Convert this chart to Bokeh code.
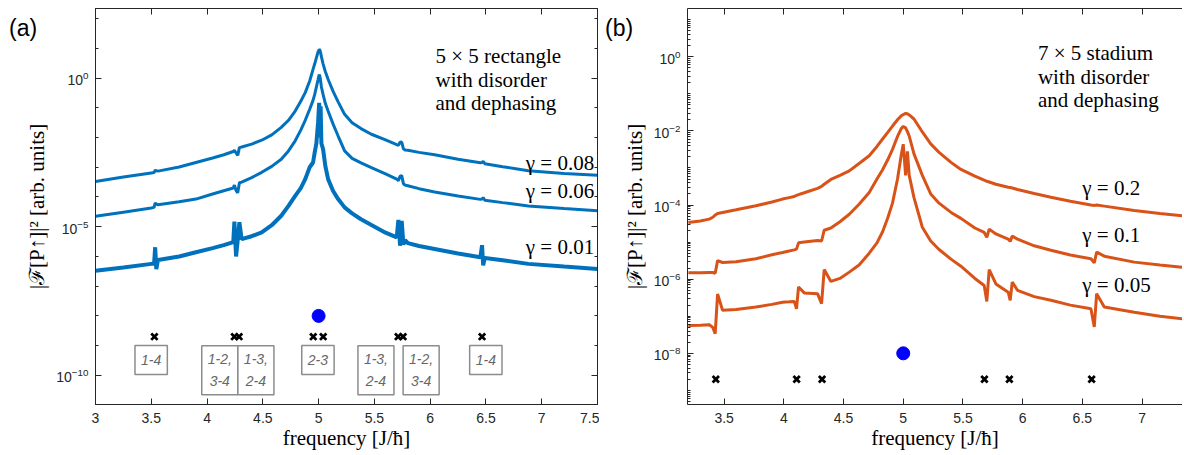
import numpy as np
from bokeh.plotting import figure
from bokeh.models import (FixedTicker, LogAxis, LinearAxis, CustomJSTickFormatter,
                          Label, Range1d, Div, GridBox)
from bokeh.embed import file_html
from bokeh.resources import INLINE
from bokeh.core.properties import value

# ------------------------------------------------------------------ data
# panel (a): 5x5 rectangle -- log10 of |F[P]|^2
freq_a = [3.00, 3.25, 3.50, 3.525, 3.535, 3.545, 3.56, 3.75, 3.90, 4.05,
          4.15, 4.235, 4.245, 4.26, 4.275, 4.29, 4.31, 4.40, 4.49, 4.58,
          4.665, 4.73, 4.79, 4.84, 4.88, 4.92, 4.95, 4.965, 4.98, 4.995,
          5.005, 5.012, 5.018, 5.025, 5.04, 5.06, 5.085, 5.13, 5.175, 5.233,
          5.30, 5.38, 5.473, 5.60, 5.70, 5.715, 5.73, 5.745, 5.76, 5.775,
          5.80, 5.90, 6.04, 6.25, 6.45, 6.465, 6.475, 6.49, 6.65, 6.88,
          7.20, 7.50]
log_a_g008 = [-3.48, -3.33, -3.19, -3.18, -3.10, -3.12, -3.13, -2.99, -2.84, -2.69,
              -2.58, -2.47, -2.43, -2.52, -2.60, -2.34, -2.32, -2.22, -2.09, -1.91,
              -1.66, -1.42, -1.11, -0.78, -0.49, -0.10, 0.29, 0.48, 0.68, 0.88,
              0.96, 0.94, 0.85, 0.72, 0.48, 0.22, -0.04, -0.45, -0.80, -1.22,
              -1.50, -1.70, -1.89, -2.08, -2.24, -2.26, -2.16, -2.15, -2.38, -2.42,
              -2.43, -2.50, -2.58, -2.73, -2.85, -2.84, -2.80, -2.88, -2.98, -3.12,
              -3.21, -3.27]
log_a_g006 = [-4.65, -4.51, -4.37, -4.35, -4.20, -4.24, -4.26, -4.16, -4.07, -3.90,
              -3.79, -3.70, -3.60, -3.78, -3.86, -3.52, -3.50, -3.35, -3.17, -2.97,
              -2.73, -2.45, -2.11, -1.75, -1.42, -1.05, -0.75, -0.55, -0.30, -0.05,
              0.12, 0.05, -0.10, -0.30, -0.55, -0.85, -1.11, -1.55, -1.95, -2.45,
              -2.70, -2.85, -3.01, -3.22, -3.40, -3.45, -3.30, -3.28, -3.55, -3.60,
              -3.62, -3.72, -3.83, -3.97, -4.08, -4.07, -4.02, -4.11, -4.19, -4.30,
              -4.39, -4.46]
log_a_g001 = [-6.48, -6.37, -6.25, -6.24, -5.69, -6.43, -6.12, -6.00, -5.86, -5.72,
              -5.62, -5.52, -4.83, -6.00, -5.45, -4.85, -5.42, -5.32, -5.19, -4.95,
              -4.63, -4.30, -3.96, -3.70, -3.40, -3.00, -2.84, -2.50, -2.20, -1.50,
              -0.83, -2.00, -0.95, -2.20, -2.39, -2.95, -3.40, -3.80, -4.07, -4.35,
              -4.55, -4.75, -4.94, -5.20, -5.36, -4.77, -5.64, -4.80, -5.60, -5.45,
              -5.55, -5.65, -5.75, -5.90, -6.03, -5.62, -6.30, -6.05, -6.13, -6.25,
              -6.34, -6.42]

# panel (b): 7x5 stadium
freq_b = [3.20, 3.30, 3.375, 3.405, 3.425, 3.445, 3.487, 3.60, 3.766, 3.90,
          3.989, 4.045, 4.087, 4.106, 4.123, 4.171, 4.282, 4.316, 4.338, 4.394,
          4.47, 4.548, 4.63, 4.715, 4.78, 4.827, 4.87, 4.91, 4.952, 4.985,
          5.00, 5.02, 5.035, 5.05, 5.09, 5.16, 5.23, 5.30, 5.40, 5.483,
          5.60, 5.678, 5.70, 5.72, 5.776, 5.879, 5.896, 5.913, 5.957, 6.097,
          6.237, 6.40, 6.572, 6.60, 6.62, 6.684, 6.935, 7.15, 7.34]
log_b_g02 = [-4.47, -4.43, -4.38, -4.33, -4.27, -4.23, -4.20, -4.13, -4.02, -3.92,
             -3.84, -3.80, -3.77, -3.74, -3.72, -3.67, -3.55, -3.50, -3.44, -3.31,
             -3.20, -3.08, -2.88, -2.67, -2.42, -2.22, -2.04, -1.87, -1.70, -1.59,
             -1.56, -1.53, -1.54, -1.57, -1.68, -2.03, -2.35, -2.58, -2.85, -3.04,
             -3.22, -3.33, -3.36, -3.38, -3.44, -3.52, -3.53, -3.54, -3.58, -3.69,
             -3.79, -3.90, -4.00, -4.01, -4.00, -4.03, -4.15, -4.23, -4.29]
log_b_g01 = [-5.83, -5.83, -5.82, -5.82, -5.84, -5.50, -5.55, -5.53, -5.45, -5.34,
             -5.28, -5.24, -5.21, -5.19, -5.02, -5.00, -4.96, -4.97, -4.68, -4.62,
             -4.45, -4.25, -3.98, -3.66, -3.30, -3.05, -2.78, -2.50, -2.15, -1.93,
             -1.88, -1.92, -2.02, -2.14, -2.62, -3.20, -3.70, -3.95, -4.20, -4.36,
             -4.62, -4.74, -4.87, -4.65, -4.78, -4.92, -4.98, -4.84, -4.92, -5.10,
             -5.22, -5.35, -5.45, -5.56, -5.27, -5.38, -5.54, -5.62, -5.68]
log_b_g005 = [-7.25, -7.24, -7.23, -7.30, -7.47, -6.40, -6.84, -6.82, -6.75, -6.68,
              -6.62, -6.61, -6.60, -6.80, -6.21, -6.37, -6.39, -6.66, -5.74, -6.06,
              -5.98, -5.81, -5.62, -5.30, -5.02, -4.72, -4.35, -3.95, -3.30, -2.62,
              -2.36, -3.20, -2.55, -3.20, -3.80, -4.60, -4.97, -5.20, -5.46, -5.65,
              -5.98, -6.17, -6.60, -5.74, -6.13, -6.35, -6.57, -6.08, -6.30, -6.47,
              -6.57, -6.70, -6.80, -7.29, -6.39, -6.75, -6.89, -7.00, -7.07]

# transition frequencies (crosses) and the central pair frequency (dot)
transitions_a = [3.528, 4.245, 4.287, 4.952, 5.041, 5.713, 5.757, 6.465]
transitions_b = [3.43, 4.107, 4.32, 5.68, 5.889, 6.578]
transition_amp = 2e-9
center_freq = [5.0]
center_amp = [1e-8]

# labelled boxes in panel (a)
box_labels_a = ["1-4", "1-2,\n3-4", "1-3,\n2-4", "2-3", "1-3,\n2-4", "1-2,\n3-4", "1-4"]
box_freq_a = [3.499, 4.114, 4.438, 4.994, 5.514, 5.919, 6.499]

gamma_labels_a = ["γ = 0.08", "γ = 0.06", "γ = 0.01"]
gamma_labels_b = ["γ = 0.2", "γ = 0.1", "γ = 0.05"]
desc_a = ["5 × 5 rectangle", "with disorder", "and dephasing"]
desc_b = ["7 × 5 stadium", "with disorder", "and dephasing"]

xticks_a = [3, 3.5, 4, 4.5, 5, 5.5, 6, 6.5, 7, 7.5]
xticks_b = [3.5, 4, 4.5, 5, 5.5, 6, 6.5, 7]
yticks_a = [1e-10, 1e-5, 1e0]
yticks_b = [1e-8, 1e-6, 1e-4, 1e-2, 1e0]

# ------------------------------------------------------------------ style
BLUE = "#0072BD"
ORANGE = "#D95319"
AXIS = "#262626"
SERIF = "Liberation Serif"
SANS = "Liberation Sans"
H = 452
YLABEL = "|ℱ[P↑]|² [arb. units]"
XLABEL = "frequency [J/ħ]"

minor_a = [10.0 ** k for k in range(-11, 3)]
minor_b = [m * 10.0 ** k for k in range(-10, 2) for m in range(1, 10)]


def style_axis(ax, ticker, labels=True):
    ax.ticker = ticker
    ax.axis_line_color = AXIS
    ax.axis_line_width = 1
    ax.major_tick_line_color = AXIS
    ax.minor_tick_line_color = AXIS
    ax.major_tick_in = 6
    ax.major_tick_out = 0
    ax.minor_tick_in = 3
    ax.minor_tick_out = 0
    ax.major_label_text_font = SANS
    ax.major_label_text_font_size = "14px"
    ax.major_label_text_color = AXIS
    if not labels:
        ax.formatter = CustomJSTickFormatter(code="return '';")
        ax.major_label_text_font_size = "0px"
        ax.major_label_standoff = 0


def make_fig(width, xr, yr, left, right, xticks, yticks, yminor):
    p = figure(width=width, height=H, x_range=Range1d(*xr), y_range=Range1d(*yr),
               y_axis_type="log", output_backend="svg", toolbar_location=None,
               min_border_left=left, min_border_right=right,
               min_border_top=8, min_border_bottom=47)
    p.grid.visible = False
    p.background_fill_color = "white"
    p.border_fill_color = "white"
    bottom = p.below[0]
    style_axis(bottom, FixedTicker(ticks=xticks, minor_ticks=[]))
    bottom.formatter = CustomJSTickFormatter(code="return String(tick);")
    bottom.major_label_standoff = 8
    bottom.axis_label = XLABEL
    bottom.axis_label_text_font = SERIF
    bottom.axis_label_text_font_size = "21px"
    bottom.axis_label_text_font_style = "normal"
    bottom.axis_label_text_color = "black"
    bottom.axis_label_standoff = 0
    lefta = p.left[0]
    style_axis(lefta, FixedTicker(ticks=yticks, minor_ticks=yminor))
    lefta.axis_label = YLABEL
    lefta.axis_label_text_font = SERIF
    lefta.axis_label_text_font_size = "21px"
    lefta.axis_label_text_font_style = "normal"
    lefta.axis_label_text_color = "black"
    lefta.axis_label_standoff = 4
    lefta.major_label_standoff = 7
    top = LinearAxis()
    style_axis(top, FixedTicker(ticks=xticks, minor_ticks=[]), labels=False)
    p.add_layout(top, "above")
    return p


def text_label(p, x, y, txt, align):
    p.add_layout(Label(x=x, y=y, text=txt, text_font=SERIF, text_font_size="21px",
                       text_align=align, text_baseline="middle", text_color="black"))


# ------------------------------------------------------------------ panel (a)
pa = make_fig(599, (3.0, 7.5), (10 ** -10.98, 10 ** 2.34), 95, 2,
              xticks_a, yticks_a, minor_a)
pa.outline_line_color = AXIS
right_a = LogAxis()
style_axis(right_a, FixedTicker(ticks=yticks_a, minor_ticks=minor_a), labels=False)
pa.add_layout(right_a, "right")

pa.line(freq_a, np.power(10.0, log_a_g008), line_color=BLUE, line_width=3)
pa.line(freq_a, np.power(10.0, log_a_g006), line_color=BLUE, line_width=3)
pa.line(freq_a, np.power(10.0, log_a_g001), line_color=BLUE, line_width=4)

two_line = ["\n" in s for s in box_labels_a]
box_y = [1.5e-10 if t else 3.3e-10 for t in two_line]
box_w = [0.323 if t else 0.29 for t in two_line]
box_h = [49 if t else 29 for t in two_line]
pa.rect(x=box_freq_a, y=box_y, width=box_w, height=box_h, height_units="screen",
        fill_color="white", line_color="#8C8C8C", line_width=1.5)
pa.text(x=box_freq_a, y=box_y, text=box_labels_a, text_font=value(SANS),
        text_font_style="italic", text_font_size="14px", text_color="#666666",
        text_align="center", text_baseline="middle", text_line_height=1.4)

pa.scatter(transitions_a, [transition_amp] * len(transitions_a), marker="x",
           size=9, line_width=2.8, line_color="black")
pa.scatter(center_freq, center_amp, size=13, color="#0000FF")

for txt, ly in zip(desc_a, [0.75, -0.05, -0.85]):
    text_label(pa, 6.048, 10 ** ly, txt, "left")
for txt, ly in zip(gamma_labels_a, [-2.84, -3.79, -5.69]):
    text_label(pa, 7.47, 10 ** ly, txt, "right")

# ------------------------------------------------------------------ panel (b)
pb = make_fig(583, (3.193, 7.339), (10 ** -9.38, 10 ** 1.30), 88, 0,
              xticks_b, yticks_b, minor_b)
pb.outline_line_color = None

pb.line(freq_b, np.power(10.0, log_b_g02), line_color=ORANGE, line_width=3)
pb.line(freq_b, np.power(10.0, log_b_g01), line_color=ORANGE, line_width=3)
pb.line(freq_b, np.power(10.0, log_b_g005), line_color=ORANGE, line_width=3)

pb.scatter(transitions_b, [transition_amp] * len(transitions_b), marker="x",
           size=9, line_width=2.8, line_color="black")
pb.scatter(center_freq, center_amp, size=13, color="#0000FF")

for txt, ly in zip(desc_b, [0.11, -0.54, -1.17]):
    text_label(pb, 6.128, 10 ** ly, txt, "left")
for txt, ly in zip(gamma_labels_b, [-3.55, -4.81, -6.17]):
    text_label(pb, 6.50, 10 ** ly, txt, "left")

# ------------------------------------------------------------------ panel tags
def tag(txt, left):
    return Div(text=f'<span style="font-family:{SANS};font-size:23px;color:black;'
                    f'line-height:23px;white-space:nowrap">{txt}</span>',
               width=38, height=25, margin=(17, 0, 0, left))


layout = GridBox(children=[(pa, 0, 0), (tag("(a)", 9), 0, 0),
                           (pb, 0, 1), (tag("(b)", 6), 0, 1)], spacing=0)
open("out.html", "w").write(file_html(layout, INLINE))
